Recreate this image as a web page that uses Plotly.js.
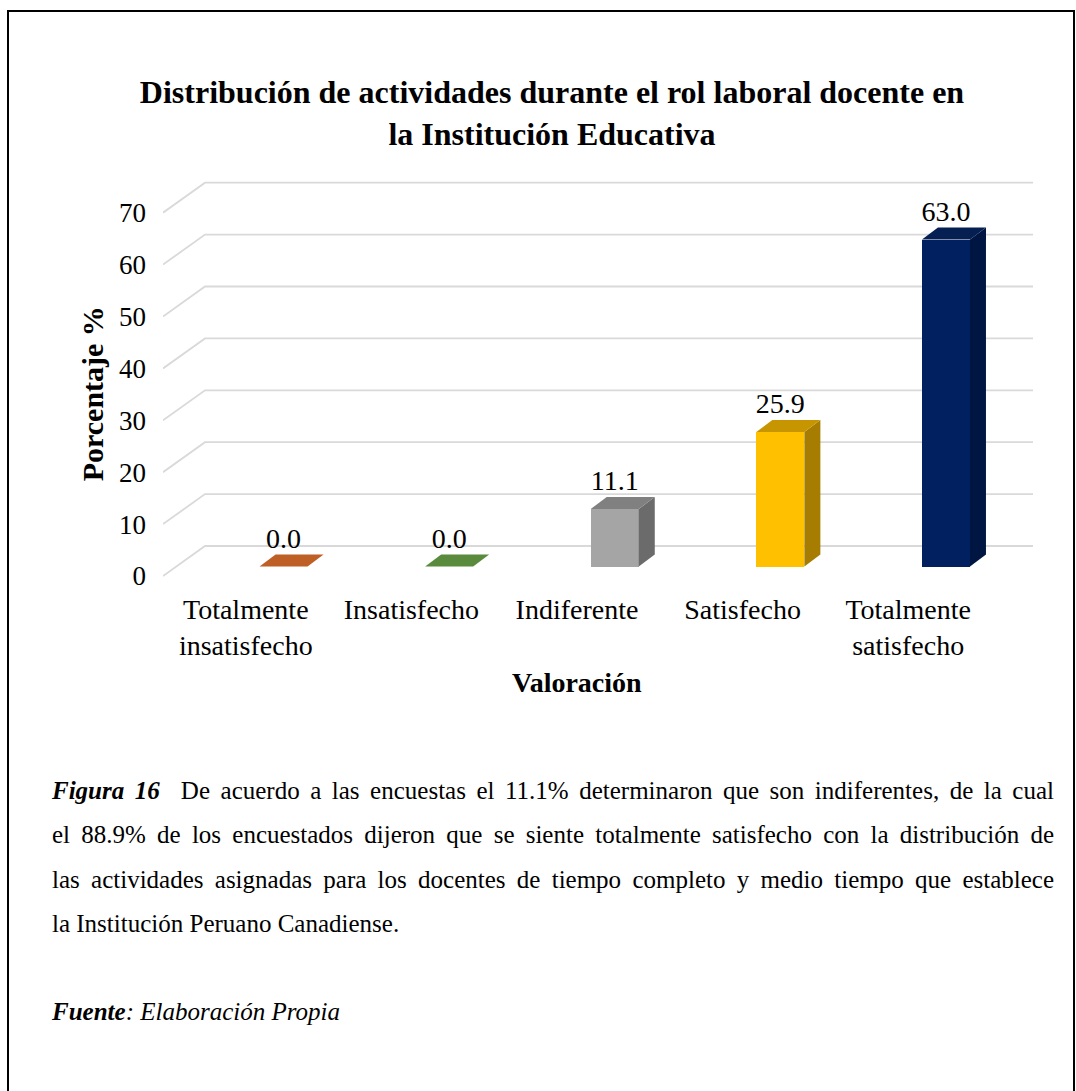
<!DOCTYPE html>
<html>
<head>
<meta charset="utf-8">
<script src="https://cdn.plot.ly/plotly-3.0.1.min.js"></script>
<style>
  html, body { margin: 0; padding: 0; background: #fff; }
  #page { position: relative; width: 1076px; height: 1091px; overflow: hidden; background: #fff; }
  #chart { position: absolute; left: 0; top: 0; width: 1076px; height: 760px; }
  #frame { position: absolute; left: 7px; top: 10px; width: 1068px; height: 1100px;
           border: 2px solid #000; box-sizing: border-box; pointer-events: none; }
  #caption { position: absolute; left: 52px; top: 769px; width: 1002px;
             font-family: "Liberation Serif", "Times New Roman", serif; font-size: 25px;
             line-height: 44.3px; color: #000; }
  #caption .j { text-align: justify; text-align-last: justify; }
  #caption .l { text-align: left; }
</style>
</head>
<body>
<div id="page">
  <div id="chart"></div>
  <div id="caption">
    <div class="j"><b><i>Figura 16</i></b>&nbsp; De acuerdo a las encuestas el 11.1% determinaron que son indiferentes, de la cual</div>
    <div class="j">el 88.9% de los encuestados dijeron que se siente totalmente satisfecho con la distribución de</div>
    <div class="j">las actividades asignadas para los docentes de tiempo completo y medio tiempo que establece</div>
    <div class="l">la Institución Peruano Canadiense.</div>
    <div class="l">&nbsp;</div>
    <div class="l"><b><i>Fuente</i></b><i>: Elaboración Propia</i></div>
  </div>
  <div id="frame"></div>
</div>
<script>
// Chart data
const categories = ['Totalmente<br>insatisfecho', 'Insatisfecho', 'Indiferente', 'Satisfecho', 'Totalmente<br>satisfecho'];
const values = [0.0, 0.0, 11.1, 25.9, 63.0];
const yTicks = [0, 10, 20, 30, 40, 50, 60, 70];

// Face colours of each 3-D column: front, top, right side
const frontColors = ['#C55A11', '#548235', '#A5A5A5', '#FFC000', '#002060'];
const topColors   = ['#BE5F26', '#5A8A3C', '#808080', '#C79500', '#061F52'];
const sideColors  = ['#9A4A12', '#44692B', '#6B6B6B', '#A67D00', '#001642'];

// Pseudo-3D geometry (axis units)
const X_MIN = -0.5, X_FRONT_MAX = 4.5;     // front edge of the floor
const WALL_DX = 0.2536, WALL_DY = 5.78;    // depth of floor / back wall
const BAR_SHIFT = 0.228, BAR_W = 0.29;     // column position within its slot
const BAR_BASE = 1.83;                     // column front sits slightly into the floor
const BAR_DX = 0.0966, BAR_DY = 2.31;      // column depth

const FONT = 'Liberation Serif, Times New Roman, serif';
const idx = categories.map((_, i) => i);

// Receding gridlines: slanted floor edge plus horizontal line on the back wall
const gridShapes = yTicks.map(v => ({
  type: 'path', xref: 'x', yref: 'y', layer: 'below',
  path: `M ${X_MIN},${v} L ${X_MIN + WALL_DX},${v + WALL_DY} L ${X_FRONT_MAX + WALL_DX},${v + WALL_DY}`,
  line: { color: '#D9D9D9', width: 1.8 }
}));

const traces = [];

// Front faces
traces.push({
  type: 'bar', x: idx, y: values, base: BAR_BASE,
  width: BAR_W, offset: BAR_SHIFT - BAR_W / 2,
  marker: { color: frontColors, line: { width: 0 } },
  hoverinfo: 'skip', showlegend: false
});

// Top and side faces
values.forEach((v, i) => {
  const xl = i + BAR_SHIFT - BAR_W / 2, xr = i + BAR_SHIFT + BAR_W / 2;
  const yb = BAR_BASE, yt = BAR_BASE + v;
  traces.push({
    type: 'scatter', mode: 'lines', fill: 'toself', fillcolor: sideColors[i],
    x: [xr, xr, xr + BAR_DX, xr + BAR_DX, xr],
    y: [yb, yt, yt + BAR_DY, yb + BAR_DY, yb],
    line: { width: 0 }, hoverinfo: 'skip', showlegend: false
  });
  traces.push({
    type: 'scatter', mode: 'lines', fill: 'toself', fillcolor: topColors[i],
    x: [xl, xr, xr + BAR_DX, xl + BAR_DX, xl],
    y: [yt, yt, yt + BAR_DY, yt + BAR_DY, yt],
    line: { width: 0 }, hoverinfo: 'skip', showlegend: false
  });
});

// Value labels above each column
traces.push({
  type: 'scatter', mode: 'text',
  x: idx.map(i => i + BAR_SHIFT),
  y: values.map(v => BAR_BASE + v + BAR_DY),
  text: values.map(v => v.toFixed(1)),
  textposition: 'top center',
  textfont: { family: FONT, size: 28, color: '#000' },
  cliponaxis: false, hoverinfo: 'skip', showlegend: false
});

const H = 760, MT = 170, MB = 180;
const plotH = H - MT - MB;               // 410 px
const pxPerUnit = 5.19;
const yLow = -(4 / pxPerUnit), yHigh = yLow + plotH / pxPerUnit;

const layout = {
  width: 1076, height: H,
  margin: { l: 163, r: 43, t: MT, b: MB, pad: 0 },
  paper_bgcolor: '#fff', plot_bgcolor: 'rgba(0,0,0,0)',
  showlegend: false, bargap: 0,
  title: {
    text: '<b>Distribución de actividades durante el rol laboral docente en<br>la Institución Educativa</b>',
    font: { family: FONT, size: 32, color: '#000' },
    xref: 'container', x: 552 / 1076, xanchor: 'center',
    yref: 'container', y: 1 - 103 / H, yanchor: 'top'
  },
  xaxis: {
    range: [X_MIN, X_FRONT_MAX + WALL_DX],
    tickvals: idx, ticktext: categories,
    showgrid: false, zeroline: false, showline: false, ticks: '',
    tickfont: { family: FONT, size: 28, color: '#000' },
    ticklabelstandoff: 10, fixedrange: true
  },
  yaxis: {
    range: [yLow, yHigh],
    tickvals: yTicks, ticktext: yTicks.map(String),
    showgrid: false, zeroline: false, showline: false, ticks: '',
    tickfont: { family: FONT, size: 27, color: '#000' },
    ticklabelstandoff: 16, fixedrange: true
  },
  shapes: gridShapes,
  annotations: [
    {
      text: '<b>Porcentaje %</b>', textangle: -90,
      xref: 'paper', x: (92 - 163) / 870, xanchor: 'center',
      yref: 'y', y: 35, yanchor: 'middle',
      showarrow: false, font: { family: FONT, size: 30, color: '#000' }
    },
    {
      text: '<b>Valoración</b>',
      xref: 'x', x: 2, xanchor: 'center',
      yref: 'paper', y: (580 - 682) / plotH, yanchor: 'middle',
      showarrow: false, font: { family: FONT, size: 28, color: '#000' }
    }
  ]
};

Plotly.newPlot('chart', traces, layout, { staticPlot: true, displayModeBar: false });
</script>
</body>
</html>
